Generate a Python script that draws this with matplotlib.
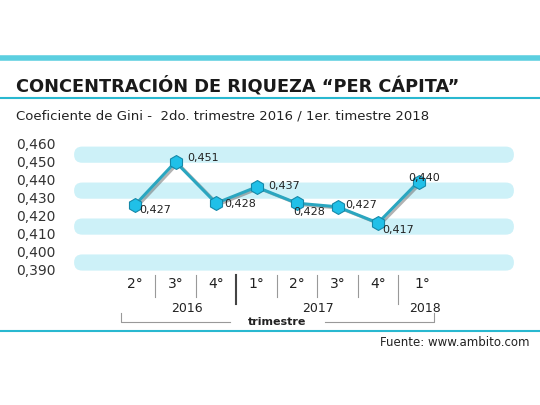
import matplotlib
matplotlib.use("Agg")
import matplotlib.pyplot as plt
from matplotlib.patches import FancyBboxPatch

quarters = ["2°", "3°", "4°", "1°", "2°", "3°", "4°", "1°"]
values = [0.427, 0.451, 0.428, 0.437, 0.428, 0.426, 0.417, 0.440]
labels = ["0,427", "0,451", "0,428", "0,437", "0,428", "0,427", "0,417", "0,440"]
yticks = [0.460, 0.450, 0.440, 0.430, 0.420, 0.410, 0.400, 0.390]
years = ["2016", "2017", "2018"]

W, H = 540, 405
fig = plt.figure(figsize=(5.4, 4.05), dpi=100)
bg = fig.add_axes([0, 0, 1, 1]); bg.set_xlim(0, W); bg.set_ylim(H, 0); bg.axis("off")
cyan = "#29b8d0"
bg.plot([0, W], [58, 58], color="#5ccfe0", lw=4, solid_capstyle="butt")
bg.text(16, 86, "CONCENTRACIÓN DE RIQUEZA “PER CÁPITA”", fontsize=12.8, fontweight="bold",
        color="#1a1a1a", va="center", family="DejaVu Sans")
bg.plot([0, W], [98, 98], color=cyan, lw=1.5)
bg.text(16, 116, "Coeficiente de Gini -  2do. trimestre 2016 / 1er. timestre 2018", fontsize=9.5,
        color="#222", va="center")
bg.plot([0, W], [331, 331], color=cyan, lw=1.5)
bg.text(530, 342, "Fuente: www.ambito.com", fontsize=8.5, ha="right", va="center", color="#222")

x0, dx = 135, 40.5
ax = fig.add_axes([66 / W, 1 - 276 / H, (522 - 66) / W, (276 - 143) / H])
ax.set_xlim((66 - x0) / dx, (522 - x0) / dx)
ax.set_ylim(0.3875, 0.4615)
ax.axis("off")
xl, xr = ax.get_xlim()
for c in [0.455, 0.435, 0.415, 0.395]:
    ax.add_patch(FancyBboxPatch((xl + 0.2, c - 0.0045), xr - xl - 0.4, 0.009,
                                boxstyle="round,pad=0,rounding_size=0.2", mutation_aspect=0.022,
                                fc="#cdf1f8", ec="none", zorder=0))
xs = list(range(len(values)))
ax.plot([x + 0.06 for x in xs], [v - 0.0008 for v in values], color="#666", lw=2.0, zorder=1, alpha=0.5)
ax.plot(xs, values, color="#2aa6c0", lw=2.2, zorder=2)
ax.plot(xs, values, "h", ms=10, mfc="#20c0e8", mec="#1588a8", mew=0.8, zorder=3)
offs = [(0.1, -0.0025, "left"), (0.3, 0.002, "left"), (0.2, -0.0005, "left"), (0.3, 0.0005, "left"),
        (-0.1, -0.005, "left"), (0.2, 0.001, "left"), (0.1, -0.004, "left"), (-0.25, 0.002, "left")]
for x, v, t, (ox, oy, ha) in zip(xs, values, labels, offs):
    ax.text(x + ox, v + oy, t, fontsize=8, ha=ha, va="center", color="#222", zorder=4)
for t in yticks:
    bg.text(16, 145 + (0.460 - t) / 0.01 * 18, f"{t:.3f}".replace(".", ","), fontsize=10,
            va="center", color="#333")

for i, q in enumerate(quarters):
    bg.text(x0 + i * dx + (4 if i == 7 else 0), 284, q, fontsize=10, ha="center", va="center", color="#222")
for i in [1, 2, 4, 5, 6]:
    bg.plot([x0 + (i - 0.5) * dx] * 2, [275, 297], color="#999", lw=0.8)
bg.plot([x0 + 2.5 * dx] * 2, [275, 304], color="#444", lw=1.5)
bg.plot([x0 + 6.5 * dx] * 2, [275, 304], color="#999", lw=0.8)
for xp, y in zip([187, 318, 425], years):
    bg.text(xp, 308, y, fontsize=9, ha="center", va="center", color="#222")
bg.plot([121, 121, 230], [313, 322, 322], color="#999", lw=0.8)
bg.plot([325, 434, 434], [322, 322, 313], color="#999", lw=0.8)
bg.text(277, 322, "trimestre", fontsize=8, fontweight="bold", ha="center", va="center", color="#222")
fig.savefig("out.png", dpi=100)
